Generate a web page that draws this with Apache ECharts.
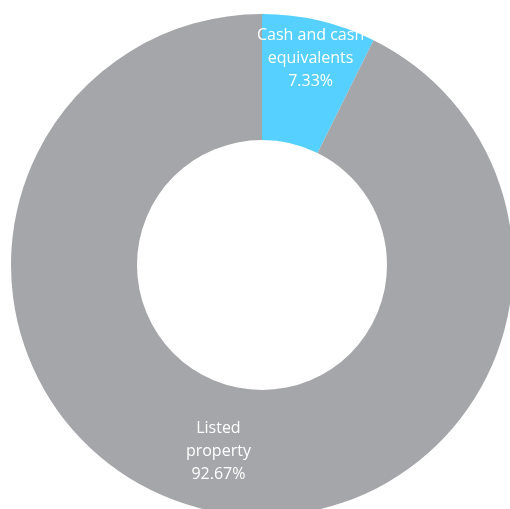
<!DOCTYPE html>
<html>
<head>
<meta charset="utf-8">
<script src="https://cdn.jsdelivr.net/npm/echarts@6/dist/echarts.min.js"></script>
<style>
html,body{margin:0;padding:0;background:#fff;}
#chart{width:510px;height:509px;}
</style>
</head>
<body>
<div id="chart"></div>
<script>
const categories = ['Cash and cash\nequivalents', 'Listed\nproperty'];
const values = [7.33, 92.67];
const colors = ['#55D0FF', '#A5A6A9'];

const chart = echarts.init(document.getElementById('chart'), null, {renderer: 'canvas'});
chart.setOption({
  animation: false,
  series: [{
    type: 'pie',
    center: [262, 265],
    radius: [125, 251],
    startAngle: 90,
    clockwise: true,
    avoidLabelOverlap: false,
    label: {
      show: true,
      position: 'inside',
      formatter: '{b}\n{d}%',
      color: '#ffffff',
      fontFamily: 'Open Sans',
      fontSize: 16,
      lineHeight: 23,
      align: 'center'
    },
    labelLine: {show: false},
    emphasis: {disabled: true},
    data: categories.map((c, i) => ({
      name: c,
      value: values[i],
      itemStyle: {color: colors[i]},
      label: i === 0 ? {offset: [5, -21]} : {}
    }))
  }]
});
</script>
</body>
</html>
